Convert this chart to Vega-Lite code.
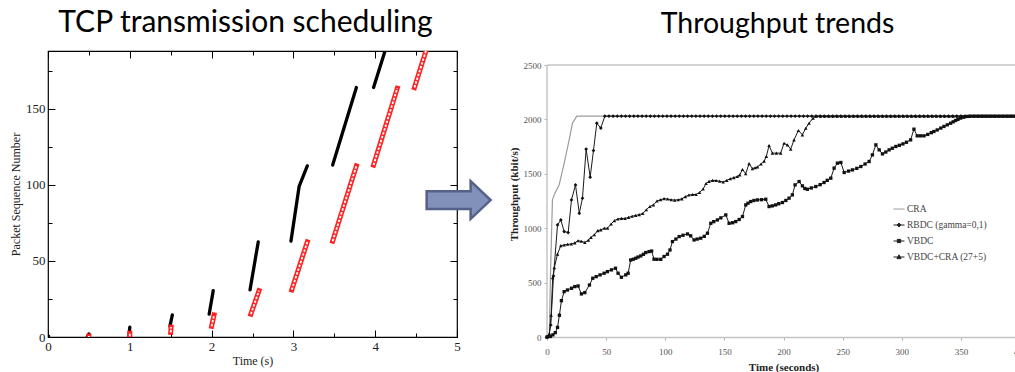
{
  "$schema": "https://vega.github.io/schema/vega-lite/v6.json",
  "background": "white",
  "padding": {"left": 8, "top": 6, "right": 0, "bottom": 0},
  "spacing": 11,
  "resolve": {"legend": {"fill": "independent", "stroke": "independent", "shape": "independent"}, "scale": {"fill": "independent", "stroke": "independent", "shape": "independent"}},
  "config": {"axis": {"labelFont": "Liberation Serif", "titleFont": "Liberation Serif", "grid": false}},
  "hconcat": [
    {
      "width": 409,
      "height": 286,
      "title": {"text": "TCP transmission scheduling", "font": "Lato", "fontSize": 30, "fontWeight": "normal", "color": "black", "anchor": "middle", "offset": 13, "dx": -7},
      "view": {"stroke": "black", "strokeWidth": 1.2},
      "resolve": {"axis": {"x": "independent", "y": "independent"}},
      "data": {"values": [
        {"trace": "sent", "burst": 0, "t": 0, "n": 0}, {"trace": "sent", "burst": 0, "t": 0.006, "n": 0.6},
        {"trace": "sent", "burst": 1, "t": 0.48, "n": 0}, {"trace": "sent", "burst": 1, "t": 0.5, "n": 2},
        {"trace": "sent", "burst": 2, "t": 0.99, "n": 0.5}, {"trace": "sent", "burst": 2, "t": 1.0, "n": 6.5},
        {"trace": "sent", "burst": 3, "t": 1.49, "n": 7}, {"trace": "sent", "burst": 3, "t": 1.52, "n": 14.5},
        {"trace": "sent", "burst": 4, "t": 1.97, "n": 15}, {"trace": "sent", "burst": 4, "t": 2.02, "n": 30.5},
        {"trace": "sent", "burst": 5, "t": 2.47, "n": 31}, {"trace": "sent", "burst": 5, "t": 2.57, "n": 62.5},
        {"trace": "sent", "burst": 6, "t": 2.97, "n": 63}, {"trace": "sent", "burst": 6, "t": 3.07, "n": 99}, {"trace": "sent", "burst": 6, "t": 3.17, "n": 112.5},
        {"trace": "sent", "burst": 7, "t": 3.48, "n": 113}, {"trace": "sent", "burst": 7, "t": 3.77, "n": 164},
        {"trace": "sent", "burst": 8, "t": 3.98, "n": 164}, {"trace": "sent", "burst": 8, "t": 4.12, "n": 188},
        {"trace": "acked", "burst": 1, "t": 0.5, "n": 0}, {"trace": "acked", "burst": 1, "t": 0.5, "n": 0.6},
        {"trace": "acked", "burst": 2, "t": 1.0, "n": 0.5}, {"trace": "acked", "burst": 2, "t": 1.0, "n": 2.5},
        {"trace": "acked", "burst": 3, "t": 1.5, "n": 3}, {"trace": "acked", "burst": 3, "t": 1.505, "n": 6.5},
        {"trace": "acked", "burst": 4, "t": 2.0, "n": 7}, {"trace": "acked", "burst": 4, "t": 2.03, "n": 14.5},
        {"trace": "acked", "burst": 5, "t": 2.48, "n": 15}, {"trace": "acked", "burst": 5, "t": 2.58, "n": 30.5},
        {"trace": "acked", "burst": 6, "t": 2.98, "n": 31}, {"trace": "acked", "burst": 6, "t": 3.17, "n": 62.5},
        {"trace": "acked", "burst": 7, "t": 3.48, "n": 63}, {"trace": "acked", "burst": 7, "t": 3.77, "n": 112.5},
        {"trace": "acked", "burst": 8, "t": 3.98, "n": 113}, {"trace": "acked", "burst": 8, "t": 4.27, "n": 163.5},
        {"trace": "acked", "burst": 9, "t": 4.48, "n": 164}, {"trace": "acked", "burst": 9, "t": 4.62, "n": 188}
      ]},
      "layer": [
        {
          "transform": [{"filter": "datum.trace == 'sent'"}],
          "mark": {"type": "line", "color": "black", "strokeWidth": 3.3, "strokeCap": "round", "clip": true},
          "encoding": {
            "x": {"field": "t", "type": "quantitative", "scale": {"domain": [0, 5], "nice": false, "zero": false},
              "axis": {"orient": "bottom", "values": [0, 1, 2, 3, 4, 5], "tickSize": -7, "tickColor": "black", "domain": false, "labelFontSize": 13, "labelColor": "#222", "labelPadding": 10, "labelFlush": false, "title": "Time (s)", "titleFontSize": 12, "titleFontWeight": "normal", "titleColor": "#222", "titlePadding": 2}},
            "y": {"field": "n", "type": "quantitative", "scale": {"domain": [0, 188], "nice": false, "zero": false},
              "axis": {"orient": "left", "values": [0, 50, 100, 150], "tickSize": -7, "tickColor": "black", "domain": false, "labelFontSize": 13, "labelColor": "#222", "labelPadding": 10, "labelFlush": false, "title": "Packet Sequence Number", "titleFontSize": 12, "titleFontWeight": "normal", "titleColor": "#222", "titlePadding": 3}},
            "detail": {"field": "burst", "type": "nominal"}
          }
        },
        {
          "transform": [{"filter": "datum.trace == 'acked'"}],
          "mark": {"type": "line", "color": "#f22", "strokeWidth": 5, "strokeCap": "square", "clip": true},
          "encoding": {
            "x": {"field": "t", "type": "quantitative", "axis": {"orient": "top", "values": [0, 1, 2, 3, 4, 5], "tickSize": -7, "tickColor": "black", "labels": false, "domain": false, "title": null}},
            "y": {"field": "n", "type": "quantitative", "axis": {"orient": "right", "values": [0, 50, 100, 150], "tickSize": -7, "tickColor": "black", "labels": false, "domain": false, "title": null}},
            "detail": {"field": "burst", "type": "nominal"}
          }
        },
        {
          "transform": [{"filter": "datum.trace == 'acked'"}],
          "mark": {"type": "line", "color": "white", "strokeWidth": 1.8, "strokeDash": [2.5, 1.5], "clip": true},
          "encoding": {
            "x": {"field": "t", "type": "quantitative", "axis": {"orient": "bottom", "values": [0.5, 1.5, 2.5, 3.5, 4.5], "tickSize": -4, "tickColor": "black", "labels": false, "domain": false, "title": null}},
            "y": {"field": "n", "type": "quantitative", "axis": {"orient": "left", "values": [25, 75, 125, 175], "tickSize": -4, "tickColor": "black", "labels": false, "domain": false, "title": null}},
            "detail": {"field": "burst", "type": "nominal"}
          }
        },
        {
          "data": {"values": [{"t": 5.02, "n": 90}]},
          "mark": {"type": "point", "shape": "M-1,-0.28L0.375,-0.28L0.375,-0.59L1,0L0.375,0.59L0.375,0.28L-1,0.28Z", "size": 4096, "filled": true, "fill": "#8191ba", "stroke": "#56618a", "strokeWidth": 2.5, "opacity": 1, "clip": false},
          "encoding": {
            "x": {"field": "t", "type": "quantitative", "axis": {"orient": "top", "values": [0.5, 1.5, 2.5, 3.5, 4.5], "tickSize": -4, "tickColor": "black", "labels": false, "domain": false, "title": null}},
            "y": {"field": "n", "type": "quantitative", "axis": {"orient": "right", "values": [25, 75, 125, 175], "tickSize": -4, "tickColor": "black", "labels": false, "domain": false, "title": null}}
          }
        }
      ]
    },
    {
      "width": 473,
      "height": 286,
      "title": {"text": "Throughput trends", "font": "Lato", "fontSize": 28.5, "fontWeight": "normal", "color": "black", "anchor": "middle", "offset": 13, "dx": -6},
      "view": {"stroke": null},
      "data": {"values": [
        {"s":"CRA","t":0,"v":0},{"s":"CRA","t":2,"v":30},{"s":"CRA","t":3,"v":600},{"s":"CRA","t":4.6,"v":1260},{"s":"CRA","t":6.6,"v":1320},{"s":"CRA","t":10.3,"v":1400},{"s":"CRA","t":14.5,"v":1595},{"s":"CRA","t":18.7,"v":1810},{"s":"CRA","t":21.5,"v":1965},{"s":"CRA","t":25.2,"v":2030},{"s":"CRA","t":400,"v":2030},
        {"s":"RBDC","t":0,"v":0},{"s":"RBDC","t":1.5,"v":10},{"s":"RBDC","t":3.2,"v":110},{"s":"RBDC","t":5.5,"v":560},{"s":"RBDC","t":8.9,"v":1030},{"s":"RBDC","t":11.7,"v":1076},{"s":"RBDC","t":14.5,"v":969},{"s":"RBDC","t":17.9,"v":960},{"s":"RBDC","t":20.7,"v":1260},{"s":"RBDC","t":24.1,"v":1398},{"s":"RBDC","t":27.3,"v":1137},{"s":"RBDC","t":30,"v":1276},{"s":"RBDC","t":33.1,"v":1727},{"s":"RBDC","t":36.5,"v":1469},{"s":"RBDC","t":39.3,"v":1714},{"s":"RBDC","t":42.1,"v":1965},{"s":"RBDC","t":45.5,"v":1920},{"s":"RBDC","t":48.9,"v":2030},
        {"s":"RBDC","t":52.4,"v":2030},{"s":"RBDC","t":55.9,"v":2030},{"s":"RBDC","t":59.4,"v":2030},{"s":"RBDC","t":62.9,"v":2030},{"s":"RBDC","t":66.4,"v":2030},{"s":"RBDC","t":69.9,"v":2030},{"s":"RBDC","t":73.4,"v":2030},{"s":"RBDC","t":76.9,"v":2030},{"s":"RBDC","t":80.4,"v":2030},{"s":"RBDC","t":83.9,"v":2030},{"s":"RBDC","t":87.4,"v":2030},{"s":"RBDC","t":90.9,"v":2030},{"s":"RBDC","t":94.4,"v":2030},{"s":"RBDC","t":97.9,"v":2030},{"s":"RBDC","t":101.4,"v":2030},{"s":"RBDC","t":104.9,"v":2030},{"s":"RBDC","t":108.4,"v":2030},{"s":"RBDC","t":111.9,"v":2030},{"s":"RBDC","t":115.4,"v":2030},{"s":"RBDC","t":118.9,"v":2030},{"s":"RBDC","t":122.4,"v":2030},{"s":"RBDC","t":125.9,"v":2030},{"s":"RBDC","t":129.4,"v":2030},{"s":"RBDC","t":132.9,"v":2030},{"s":"RBDC","t":136.4,"v":2030},{"s":"RBDC","t":139.9,"v":2030},{"s":"RBDC","t":143.4,"v":2030},{"s":"RBDC","t":146.9,"v":2030},{"s":"RBDC","t":150.4,"v":2030},{"s":"RBDC","t":153.9,"v":2030},{"s":"RBDC","t":157.4,"v":2030},{"s":"RBDC","t":160.9,"v":2030},{"s":"RBDC","t":164.4,"v":2030},{"s":"RBDC","t":167.9,"v":2030},{"s":"RBDC","t":171.4,"v":2030},{"s":"RBDC","t":174.9,"v":2030},{"s":"RBDC","t":178.4,"v":2030},{"s":"RBDC","t":181.9,"v":2030},{"s":"RBDC","t":185.4,"v":2030},{"s":"RBDC","t":188.9,"v":2030},{"s":"RBDC","t":192.4,"v":2030},{"s":"RBDC","t":195.9,"v":2030},{"s":"RBDC","t":199.4,"v":2030},{"s":"RBDC","t":202.9,"v":2030},{"s":"RBDC","t":206.4,"v":2030},{"s":"RBDC","t":209.9,"v":2030},{"s":"RBDC","t":213.4,"v":2030},{"s":"RBDC","t":216.9,"v":2030},{"s":"RBDC","t":220.4,"v":2030},{"s":"RBDC","t":223.9,"v":2030},{"s":"RBDC","t":227.4,"v":2030},{"s":"RBDC","t":230.9,"v":2030},{"s":"RBDC","t":234.4,"v":2030},{"s":"RBDC","t":237.9,"v":2030},{"s":"RBDC","t":241.4,"v":2030},{"s":"RBDC","t":244.9,"v":2030},{"s":"RBDC","t":248.4,"v":2030},{"s":"RBDC","t":251.9,"v":2030},{"s":"RBDC","t":255.4,"v":2030},{"s":"RBDC","t":258.9,"v":2030},{"s":"RBDC","t":262.4,"v":2030},{"s":"RBDC","t":265.9,"v":2030},{"s":"RBDC","t":269.4,"v":2030},{"s":"RBDC","t":272.9,"v":2030},{"s":"RBDC","t":276.4,"v":2030},{"s":"RBDC","t":279.9,"v":2030},{"s":"RBDC","t":283.4,"v":2030},{"s":"RBDC","t":286.9,"v":2030},{"s":"RBDC","t":290.4,"v":2030},{"s":"RBDC","t":293.9,"v":2030},{"s":"RBDC","t":297.4,"v":2030},{"s":"RBDC","t":300.9,"v":2030},{"s":"RBDC","t":304.4,"v":2030},{"s":"RBDC","t":307.9,"v":2030},{"s":"RBDC","t":311.4,"v":2030},{"s":"RBDC","t":314.9,"v":2030},{"s":"RBDC","t":318.4,"v":2030},{"s":"RBDC","t":321.9,"v":2030},{"s":"RBDC","t":325.4,"v":2030},{"s":"RBDC","t":328.9,"v":2030},{"s":"RBDC","t":332.4,"v":2030},{"s":"RBDC","t":335.9,"v":2030},{"s":"RBDC","t":339.4,"v":2030},{"s":"RBDC","t":342.9,"v":2030},{"s":"RBDC","t":346.4,"v":2030},{"s":"RBDC","t":349.9,"v":2030},{"s":"RBDC","t":353.4,"v":2030},{"s":"RBDC","t":356.9,"v":2030},{"s":"RBDC","t":360.4,"v":2030},{"s":"RBDC","t":363.9,"v":2030},{"s":"RBDC","t":367.4,"v":2030},{"s":"RBDC","t":370.9,"v":2030},{"s":"RBDC","t":374.4,"v":2030},{"s":"RBDC","t":377.9,"v":2030},{"s":"RBDC","t":381.4,"v":2030},{"s":"RBDC","t":384.9,"v":2030},{"s":"RBDC","t":388.4,"v":2030},{"s":"RBDC","t":391.9,"v":2030},{"s":"RBDC","t":395.4,"v":2030},{"s":"RBDC","t":398.9,"v":2030},
        {"s":"VC","t":0,"v":0},{"s":"VC","t":2,"v":30},{"s":"VC","t":3.5,"v":200},{"s":"VC","t":4.8,"v":546},{"s":"VC","t":6.2,"v":638},{"s":"VC","t":8.9,"v":762},{"s":"VC","t":11.7,"v":840},{"s":"VC","t":14.5,"v":846},{"s":"VC","t":17.4,"v":852},{"s":"VC","t":20.5,"v":855},{"s":"VC","t":23.5,"v":865},{"s":"VC","t":26.3,"v":885},{"s":"VC","t":29,"v":880},{"s":"VC","t":32,"v":870},{"s":"VC","t":35,"v":890},{"s":"VC","t":37.2,"v":916},{"s":"VC","t":40,"v":940},{"s":"VC","t":42.9,"v":978},{"s":"VC","t":45.5,"v":985},{"s":"VC","t":48.5,"v":1000},{"s":"VC","t":51.2,"v":1000},{"s":"VC","t":54.2,"v":1039},{"s":"VC","t":57,"v":1070},{"s":"VC","t":60,"v":1085},{"s":"VC","t":63,"v":1090},{"s":"VC","t":66,"v":1090},{"s":"VC","t":69,"v":1100},{"s":"VC","t":72,"v":1110},{"s":"VC","t":75,"v":1118},{"s":"VC","t":78,"v":1125},{"s":"VC","t":81,"v":1135},{"s":"VC","t":84,"v":1170},{"s":"VC","t":87,"v":1200},{"s":"VC","t":90,"v":1214},{"s":"VC","t":93,"v":1250},{"s":"VC","t":96,"v":1262},{"s":"VC","t":99,"v":1272},{"s":"VC","t":102,"v":1268},{"s":"VC","t":105,"v":1262},{"s":"VC","t":108,"v":1258},{"s":"VC","t":111,"v":1262},{"s":"VC","t":114,"v":1270},{"s":"VC","t":117,"v":1290},{"s":"VC","t":120,"v":1305},{"s":"VC","t":123,"v":1310},{"s":"VC","t":126,"v":1310},{"s":"VC","t":129,"v":1328},{"s":"VC","t":132,"v":1360},{"s":"VC","t":134.5,"v":1411},{"s":"VC","t":137,"v":1430},{"s":"VC","t":140,"v":1440},{"s":"VC","t":143,"v":1438},{"s":"VC","t":146,"v":1432},{"s":"VC","t":149,"v":1425},{"s":"VC","t":152,"v":1440},{"s":"VC","t":155,"v":1455},{"s":"VC","t":158,"v":1465},{"s":"VC","t":161,"v":1475},{"s":"VC","t":163,"v":1490},{"s":"VC","t":165.3,"v":1540},{"s":"VC","t":168,"v":1500},{"s":"VC","t":170.9,"v":1594},{"s":"VC","t":173.7,"v":1548},{"s":"VC","t":176,"v":1556},{"s":"VC","t":178,"v":1564},{"s":"VC","t":181,"v":1590},{"s":"VC","t":183.6,"v":1616},{"s":"VC","t":185.5,"v":1660},{"s":"VC","t":187.8,"v":1760},{"s":"VC","t":190.6,"v":1690},{"s":"VC","t":194,"v":1690},{"s":"VC","t":197.6,"v":1690},{"s":"VC","t":200.5,"v":1781},{"s":"VC","t":203.3,"v":1766},{"s":"VC","t":206.1,"v":1726},{"s":"VC","t":208.9,"v":1812},{"s":"VC","t":212.6,"v":1898},{"s":"VC","t":216,"v":1858},{"s":"VC","t":218.8,"v":1919},{"s":"VC","t":221.6,"v":1965},{"s":"VC","t":225,"v":2012},{"s":"VC","t":228,"v":2030},
        {"s":"VC","t":231.5,"v":2030},{"s":"VC","t":235,"v":2030},{"s":"VC","t":238.5,"v":2030},{"s":"VC","t":242,"v":2030},{"s":"VC","t":245.5,"v":2030},{"s":"VC","t":249,"v":2030},{"s":"VC","t":252.5,"v":2030},{"s":"VC","t":256,"v":2030},{"s":"VC","t":259.5,"v":2030},{"s":"VC","t":263,"v":2030},{"s":"VC","t":266.5,"v":2030},{"s":"VC","t":270,"v":2030},{"s":"VC","t":273.5,"v":2030},{"s":"VC","t":277,"v":2030},{"s":"VC","t":280.5,"v":2030},{"s":"VC","t":284,"v":2030},{"s":"VC","t":287.5,"v":2030},{"s":"VC","t":291,"v":2030},{"s":"VC","t":294.5,"v":2030},{"s":"VC","t":298,"v":2030},{"s":"VC","t":301.5,"v":2030},{"s":"VC","t":305,"v":2030},{"s":"VC","t":308.5,"v":2030},{"s":"VC","t":312,"v":2030},{"s":"VC","t":315.5,"v":2030},{"s":"VC","t":319,"v":2030},{"s":"VC","t":322.5,"v":2030},{"s":"VC","t":326,"v":2030},{"s":"VC","t":329.5,"v":2030},{"s":"VC","t":333,"v":2030},{"s":"VC","t":336.5,"v":2030},{"s":"VC","t":340,"v":2030},{"s":"VC","t":343.5,"v":2030},{"s":"VC","t":347,"v":2030},{"s":"VC","t":350.5,"v":2030},{"s":"VC","t":354,"v":2030},{"s":"VC","t":357.5,"v":2030},{"s":"VC","t":361,"v":2030},{"s":"VC","t":364.5,"v":2030},{"s":"VC","t":368,"v":2030},{"s":"VC","t":371.5,"v":2030},{"s":"VC","t":375,"v":2030},{"s":"VC","t":378.5,"v":2030},{"s":"VC","t":382,"v":2030},{"s":"VC","t":385.5,"v":2030},{"s":"VC","t":389,"v":2030},{"s":"VC","t":392.5,"v":2030},{"s":"VC","t":396,"v":2030},{"s":"VC","t":399.5,"v":2030},
        {"s":"VBDC","t":0,"v":0},{"s":"VBDC","t":3,"v":5},{"s":"VBDC","t":5,"v":20},{"s":"VBDC","t":7,"v":40},{"s":"VBDC","t":8.9,"v":88},{"s":"VBDC","t":10.5,"v":200},{"s":"VBDC","t":12.2,"v":334},{"s":"VBDC","t":14.5,"v":417},{"s":"VBDC","t":17.3,"v":432},{"s":"VBDC","t":20.7,"v":448},{"s":"VBDC","t":23.5,"v":463},{"s":"VBDC","t":26.3,"v":469},{"s":"VBDC","t":29.1,"v":396},{"s":"VBDC","t":32,"v":408},{"s":"VBDC","t":35.9,"v":478},{"s":"VBDC","t":38.7,"v":540},{"s":"VBDC","t":41.6,"v":555},{"s":"VBDC","t":44.9,"v":571},{"s":"VBDC","t":48.3,"v":586},{"s":"VBDC","t":51.1,"v":601},{"s":"VBDC","t":54.5,"v":617},{"s":"VBDC","t":57.9,"v":632},{"s":"VBDC","t":60.1,"v":586},{"s":"VBDC","t":62.9,"v":549},{"s":"VBDC","t":66.6,"v":571},{"s":"VBDC","t":68.6,"v":586},{"s":"VBDC","t":70.8,"v":708},{"s":"VBDC","t":73,"v":715},{"s":"VBDC","t":75.1,"v":724},{"s":"VBDC","t":77,"v":735},{"s":"VBDC","t":79.3,"v":745},{"s":"VBDC","t":81.5,"v":760},{"s":"VBDC","t":83.5,"v":776},{"s":"VBDC","t":86.3,"v":785},{"s":"VBDC","t":88.5,"v":790},{"s":"VBDC","t":90.5,"v":715},{"s":"VBDC","t":93,"v":714},{"s":"VBDC","t":96.2,"v":714},{"s":"VBDC","t":99,"v":740},{"s":"VBDC","t":101.9,"v":761},{"s":"VBDC","t":104,"v":800},{"s":"VBDC","t":106.1,"v":877},{"s":"VBDC","t":109,"v":900},{"s":"VBDC","t":111.8,"v":923},{"s":"VBDC","t":115,"v":935},{"s":"VBDC","t":118.8,"v":947},{"s":"VBDC","t":121.5,"v":930},{"s":"VBDC","t":124.4,"v":892},{"s":"VBDC","t":127,"v":900},{"s":"VBDC","t":130,"v":908},{"s":"VBDC","t":133,"v":925},{"s":"VBDC","t":135.7,"v":954},{"s":"VBDC","t":138.5,"v":1045},{"s":"VBDC","t":141,"v":1060},{"s":"VBDC","t":144.1,"v":1076},{"s":"VBDC","t":147,"v":1095},{"s":"VBDC","t":151.2,"v":1122},{"s":"VBDC","t":154,"v":1045},{"s":"VBDC","t":157,"v":1050},{"s":"VBDC","t":159.6,"v":1061},{"s":"VBDC","t":162.5,"v":1080},{"s":"VBDC","t":165.3,"v":1107},{"s":"VBDC","t":168.1,"v":1214},{"s":"VBDC","t":170,"v":1230},{"s":"VBDC","t":172.3,"v":1245},{"s":"VBDC","t":175,"v":1255},{"s":"VBDC","t":178,"v":1260},{"s":"VBDC","t":181.5,"v":1262},{"s":"VBDC","t":185,"v":1266},{"s":"VBDC","t":187.8,"v":1199},{"s":"VBDC","t":190.5,"v":1205},{"s":"VBDC","t":193.4,"v":1214},{"s":"VBDC","t":196,"v":1225},{"s":"VBDC","t":199.1,"v":1236},{"s":"VBDC","t":202,"v":1255},{"s":"VBDC","t":204.7,"v":1276},{"s":"VBDC","t":207.5,"v":1306},{"s":"VBDC","t":209.8,"v":1398},{"s":"VBDC","t":213.2,"v":1429},{"s":"VBDC","t":216,"v":1389},{"s":"VBDC","t":218,"v":1365},{"s":"VBDC","t":220.2,"v":1358},{"s":"VBDC","t":223.5,"v":1370},{"s":"VBDC","t":227.3,"v":1383},{"s":"VBDC","t":231,"v":1400},{"s":"VBDC","t":234.3,"v":1420},{"s":"VBDC","t":237,"v":1440},{"s":"VBDC","t":240,"v":1460},{"s":"VBDC","t":242.8,"v":1552},{"s":"VBDC","t":245.6,"v":1598},{"s":"VBDC","t":248.5,"v":1604},{"s":"VBDC","t":251.3,"v":1512},{"s":"VBDC","t":255,"v":1525},{"s":"VBDC","t":258.3,"v":1536},{"s":"VBDC","t":262,"v":1550},{"s":"VBDC","t":265.4,"v":1567},{"s":"VBDC","t":269,"v":1590},{"s":"VBDC","t":272.4,"v":1613},{"s":"VBDC","t":275.2,"v":1674},{"s":"VBDC","t":278.1,"v":1766},{"s":"VBDC","t":280.9,"v":1720},{"s":"VBDC","t":283.7,"v":1683},{"s":"VBDC","t":286.5,"v":1700},{"s":"VBDC","t":289.3,"v":1720},{"s":"VBDC","t":292,"v":1735},{"s":"VBDC","t":295,"v":1751},{"s":"VBDC","t":298,"v":1762},{"s":"VBDC","t":301,"v":1775},{"s":"VBDC","t":304,"v":1790},{"s":"VBDC","t":307.5,"v":1812},{"s":"VBDC","t":310.3,"v":1910},{"s":"VBDC","t":313.1,"v":1849},{"s":"VBDC","t":316,"v":1849},{"s":"VBDC","t":318.8,"v":1849},{"s":"VBDC","t":322,"v":1862},{"s":"VBDC","t":325,"v":1878},{"s":"VBDC","t":327.2,"v":1889},{"s":"VBDC","t":330,"v":1903},{"s":"VBDC","t":333,"v":1920},{"s":"VBDC","t":335.7,"v":1935},{"s":"VBDC","t":338.5,"v":1950},{"s":"VBDC","t":341.3,"v":1965},{"s":"VBDC","t":343.5,"v":1978},{"s":"VBDC","t":345.5,"v":1990},{"s":"VBDC","t":347.5,"v":2000},{"s":"VBDC","t":349.8,"v":2012},{"s":"VBDC","t":352.5,"v":2020},{"s":"VBDC","t":355.4,"v":2027},{"s":"VBDC","t":358.5,"v":2030},{"s":"VBDC","t":362,"v":2030},{"s":"VBDC","t":365.5,"v":2030},{"s":"VBDC","t":369,"v":2030},{"s":"VBDC","t":372.5,"v":2030},{"s":"VBDC","t":376,"v":2030},{"s":"VBDC","t":379.5,"v":2030},{"s":"VBDC","t":383,"v":2030},{"s":"VBDC","t":386.5,"v":2030},{"s":"VBDC","t":390,"v":2030},{"s":"VBDC","t":393.5,"v":2030},{"s":"VBDC","t":397,"v":2030},{"s":"VBDC","t":400,"v":2030}
      ]},
      "layer": [
        {
          "data": {"values": [{}]},
          "mark": {"type": "rule", "color": "#c4c4c4", "strokeWidth": 1.5},
          "encoding": {
            "x": {"datum": 0, "type": "quantitative", "scale": {"domain": [0, 400], "nice": false, "zero": false},
              "axis": {"values": [0, 50, 100, 150, 200, 250, 300, 350, 400], "tickSize": 3, "tickColor": "#b0b0b0", "domain": true, "domainColor": "#c4c4c4", "domainWidth": 1.5, "labelFontSize": 9, "labelColor": "#555", "labelPadding": 7, "labelFlush": false, "title": "Time (seconds)", "titleFontSize": 11, "titleFontWeight": "bold", "titleColor": "#222", "titlePadding": 5}},
            "y": {"datum": 0, "type": "quantitative", "scale": {"domain": [0, 2628.7], "nice": false, "zero": false},
              "axis": {"values": [0, 500, 1000, 1500, 2000, 2500], "format": "d", "tickSize": 3, "tickColor": "#b0b0b0", "domain": false, "labelFontSize": 9, "labelColor": "#555", "labelPadding": 3, "labelFlush": false, "title": "Throughput (kbit/s)", "titleFontSize": 11, "titleFontWeight": "bold", "titleColor": "#222", "titlePadding": 4}},
            "y2": {"datum": 2500}
          }
        },
        {
          "data": {"values": [{}]},
          "mark": {"type": "rule", "color": "#c4c4c4", "strokeWidth": 1.5},
          "encoding": {
            "x": {"datum": 0, "type": "quantitative"},
            "x2": {"datum": 400},
            "y": {"datum": 2500, "type": "quantitative"}
          }
        },
        {
          "transform": [{"filter": "datum.s == 'CRA'"}],
          "mark": {"type": "line", "color": "#9c9c9c", "strokeWidth": 1.2},
          "encoding": {
            "x": {"field": "t", "type": "quantitative"},
            "y": {"field": "v", "type": "quantitative"}
          }
        },
        {
          "transform": [{"filter": "datum.s != 'CRA'"}],
          "mark": {"type": "line", "color": "#1a1a1a", "strokeWidth": 1},
          "encoding": {
            "x": {"field": "t", "type": "quantitative"},
            "y": {"field": "v", "type": "quantitative"},
            "detail": {"field": "s", "type": "nominal"}
          }
        },
        {
          "transform": [{"filter": "datum.s == 'RBDC'"}],
          "mark": {"type": "point", "shape": "diamond", "filled": true, "color": "#111", "size": 14, "opacity": 1},
          "encoding": {"x": {"field": "t", "type": "quantitative"}, "y": {"field": "v", "type": "quantitative"}}
        },
        {
          "transform": [{"filter": "datum.s == 'VBDC'"}],
          "mark": {"type": "point", "shape": "square", "filled": true, "color": "#111", "size": 11, "opacity": 1},
          "encoding": {"x": {"field": "t", "type": "quantitative"}, "y": {"field": "v", "type": "quantitative"}}
        },
        {
          "transform": [{"filter": "datum.s == 'VC'"}],
          "mark": {"type": "point", "shape": "triangle-up", "filled": true, "color": "#111", "size": 13, "opacity": 1},
          "encoding": {"x": {"field": "t", "type": "quantitative"}, "y": {"field": "v", "type": "quantitative"}}
        },
        {
          "data": {"values": [
            {"series": "CRA", "t": 0, "v": 0},
            {"series": "RBDC (gamma=0,1)", "t": 0, "v": 0},
            {"series": "VBDC", "t": 0, "v": 0},
            {"series": "VBDC+CRA (27+5)", "t": 0, "v": 0}
          ]},
          "mark": {"type": "point", "filled": true, "opacity": 0, "strokeWidth": 1},
          "encoding": {
            "x": {"field": "t", "type": "quantitative"},
            "y": {"field": "v", "type": "quantitative"},
            "fill": {"field": "series", "type": "nominal",
              "scale": {"domain": ["CRA", "RBDC (gamma=0,1)", "VBDC", "VBDC+CRA (27+5)"], "range": ["transparent", "#222", "#222", "#222"]},
              "legend": {"orient": "none", "legendX": 346, "legendY": 152, "title": null, "labelFont": "Liberation Serif", "labelFontSize": 9.5, "labelColor": "#444", "symbolSize": 121, "rowPadding": 5, "labelOffset": 2, "encode": {"symbols": {"update": {"opacity": {"value": 1}, "strokeWidth": {"value": 1}}}}}},
            "stroke": {"field": "series", "type": "nominal",
              "scale": {"domain": ["CRA", "RBDC (gamma=0,1)", "VBDC", "VBDC+CRA (27+5)"], "range": ["#9c9c9c", "#222", "#222", "#222"]},
              "legend": {"orient": "none", "legendX": 346, "legendY": 152, "title": null, "labelFont": "Liberation Serif", "labelFontSize": 9.5, "labelColor": "#444", "symbolSize": 121, "rowPadding": 5, "labelOffset": 2}},
            "shape": {"field": "series", "type": "nominal",
              "scale": {"domain": ["CRA", "RBDC (gamma=0,1)", "VBDC", "VBDC+CRA (27+5)"], "range": ["M-1,0L1,0", "M-1,0L1,0M0,-0.35L0.35,0L0,0.35L-0.35,0Z", "M-1,0L1,0M-0.3,-0.3L0.3,-0.3L0.3,0.3L-0.3,0.3Z", "M-1,0L1,0M0,-0.4L0.38,0.3L-0.38,0.3Z"]},
              "legend": {"orient": "none", "legendX": 346, "legendY": 152, "title": null, "labelFont": "Liberation Serif", "labelFontSize": 9.5, "labelColor": "#444", "symbolSize": 121, "rowPadding": 5, "labelOffset": 2}}
          }
        }
      ]
    }
  ]
}
